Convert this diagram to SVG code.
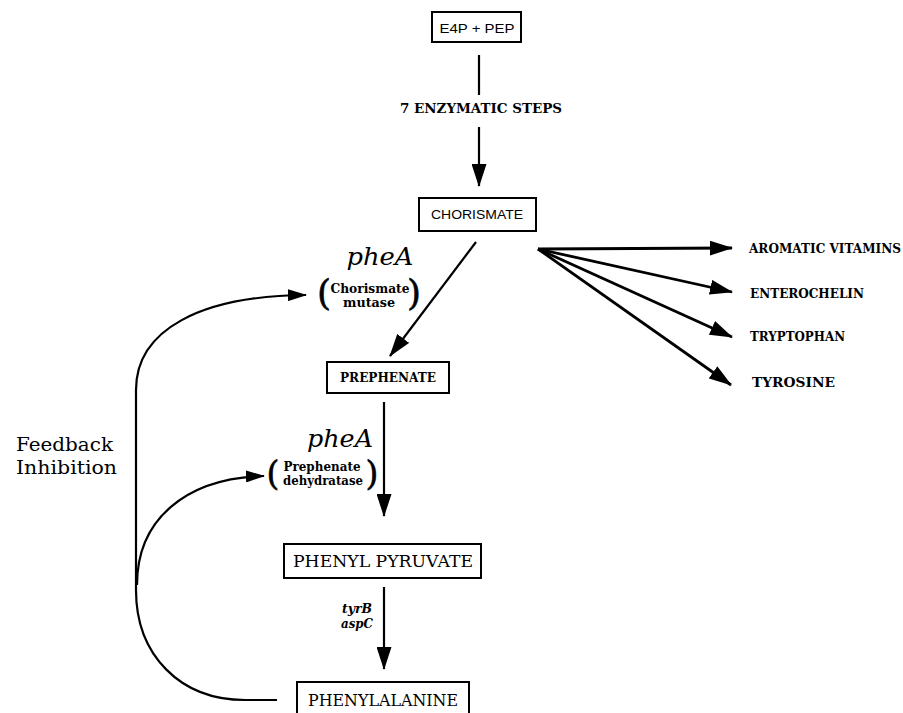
<svg xmlns="http://www.w3.org/2000/svg" width="903" height="713" viewBox="0 0 903 713">
<style>
.box{fill:#fff;stroke:#000;stroke-width:2}
.sans{font-family:"Liberation Sans",Arial,sans-serif;fill:#000}
.serif{font-family:"DejaVu Serif","Liberation Serif",serif;fill:#000}
.b{font-weight:bold}
.i{font-style:italic}
.ln{fill:none;stroke:#000;stroke-width:2.2}
.fan{fill:none;stroke:#000;stroke-width:2.8}
.par{font-family:"DejaVu Serif","Liberation Serif",serif;fill:#000;stroke:#000;stroke-width:0.6}
</style>
<defs>
<marker id="ah" viewBox="0 0 23 15" refX="22" refY="7.5" markerWidth="23" markerHeight="15" markerUnits="userSpaceOnUse" orient="auto"><path d="M0,0 L23,7.5 L0,15 z" fill="#000"/></marker>
<marker id="ahs" viewBox="0 0 19 12" refX="18" refY="6" markerWidth="19" markerHeight="12" markerUnits="userSpaceOnUse" orient="auto"><path d="M0,0 L19,6 L0,12 z" fill="#000"/></marker>
</defs>
<g id="connectors">
<line class="ln" x1="479" y1="55" x2="479" y2="95"/>
<line class="ln" x1="479" y1="127" x2="479" y2="186" marker-end="url(#ah)"/>
<line class="ln" x1="476" y1="242" x2="390" y2="356" marker-end="url(#ah)"/>
<line class="fan" x1="538" y1="249" x2="732" y2="248" marker-end="url(#ah)"/>
<line class="fan" x1="538" y1="249" x2="732" y2="292" marker-end="url(#ah)"/>
<line class="fan" x1="538" y1="249" x2="732" y2="337" marker-end="url(#ah)"/>
<line class="fan" x1="538" y1="249" x2="731" y2="385" marker-end="url(#ah)"/>
<line class="ln" x1="384" y1="402" x2="384" y2="516" marker-end="url(#ah)"/>
<line class="ln" x1="384" y1="587" x2="384" y2="669" marker-end="url(#ah)"/>
<path class="ln" d="M277,700 L245,700 C180,700 136,655 136,590 L136,390 C136,330 200,296 306,295" marker-end="url(#ahs)"/>
<path class="ln" d="M137,585 C137,520 185,478 264,476" marker-end="url(#ahs)"/>
</g>
<g id="e4p">
<rect class="box" x="432" y="12" width="89" height="30"/>
<text class="sans" x="477" y="33" font-size="12" text-anchor="middle" textLength="75" lengthAdjust="spacingAndGlyphs">E4P + PEP</text>
</g>
<g id="steps">
<text class="serif b" x="481" y="113" font-size="12" text-anchor="middle" textLength="162" lengthAdjust="spacingAndGlyphs">7 ENZYMATIC STEPS</text>
</g>
<g id="chorismate">
<rect class="box" x="419" y="198" width="117" height="33"/>
<text class="sans" x="477" y="219" font-size="13" text-anchor="middle" textLength="92" lengthAdjust="spacingAndGlyphs">CHORISMATE</text>
</g>
<g id="enzyme1">
<text class="serif i" x="380" y="265" font-size="25" text-anchor="middle" textLength="67" lengthAdjust="spacingAndGlyphs">pheA</text>
<text class="par" x="324" y="305" font-size="36" text-anchor="middle">(</text>
<text class="par" x="414" y="305" font-size="36" text-anchor="middle">)</text>
<text class="serif b" x="370" y="293" font-size="12" text-anchor="middle" textLength="79" lengthAdjust="spacingAndGlyphs">Chorismate</text>
<text class="serif b" x="369" y="307" font-size="12" text-anchor="middle" textLength="52" lengthAdjust="spacingAndGlyphs">mutase</text>
</g>
<g id="prephenate">
<rect class="box" x="327" y="362" width="122" height="31"/>
<text class="serif b" x="388" y="382" font-size="13" text-anchor="middle" textLength="96" lengthAdjust="spacingAndGlyphs">PREPHENATE</text>
</g>
<g id="products">
<text class="serif b" x="749" y="253" font-size="12" textLength="152" lengthAdjust="spacingAndGlyphs">AROMATIC VITAMINS</text>
<text class="serif b" x="750" y="298" font-size="12" textLength="114" lengthAdjust="spacingAndGlyphs">ENTEROCHELIN</text>
<text class="serif b" x="750" y="341" font-size="12" textLength="95" lengthAdjust="spacingAndGlyphs">TRYPTOPHAN</text>
<text class="serif b" x="752" y="387" font-size="12" textLength="83" lengthAdjust="spacingAndGlyphs">TYROSINE</text>
</g>
<g id="feedback">
<text class="serif" x="16" y="451" font-size="19" textLength="97" lengthAdjust="spacingAndGlyphs">Feedback</text>
<text class="serif" x="16" y="474" font-size="19" textLength="101" lengthAdjust="spacingAndGlyphs">Inhibition</text>
</g>
<g id="enzyme2">
<text class="serif i" x="340" y="447" font-size="25" text-anchor="middle" textLength="66" lengthAdjust="spacingAndGlyphs">pheA</text>
<text class="par" x="273" y="485" font-size="33" text-anchor="middle">(</text>
<text class="par" x="372" y="485" font-size="33" text-anchor="middle">)</text>
<text class="serif b" x="322" y="471" font-size="12" text-anchor="middle" textLength="77" lengthAdjust="spacingAndGlyphs">Prephenate</text>
<text class="serif b" x="323" y="485" font-size="12" text-anchor="middle" textLength="80" lengthAdjust="spacingAndGlyphs">dehydratase</text>
</g>
<g id="phenylpyruvate">
<rect class="box" x="284" y="544" width="197" height="34"/>
<text class="serif" x="383" y="567" font-size="17" text-anchor="middle" textLength="180" lengthAdjust="spacingAndGlyphs">PHENYL PYRUVATE</text>
</g>
<g id="enzyme3">
<text class="serif b i" x="357" y="613" font-size="12" text-anchor="middle" textLength="30" lengthAdjust="spacingAndGlyphs">tyrB</text>
<text class="serif b i" x="357" y="628" font-size="12" text-anchor="middle" textLength="32" lengthAdjust="spacingAndGlyphs">aspC</text>
</g>
<g id="phenylalanine">
<rect class="box" x="297" y="682" width="172" height="36"/>
<text class="serif" x="383" y="706" font-size="17" text-anchor="middle" textLength="150" lengthAdjust="spacingAndGlyphs">PHENYLALANINE</text>
</g>
</svg>
